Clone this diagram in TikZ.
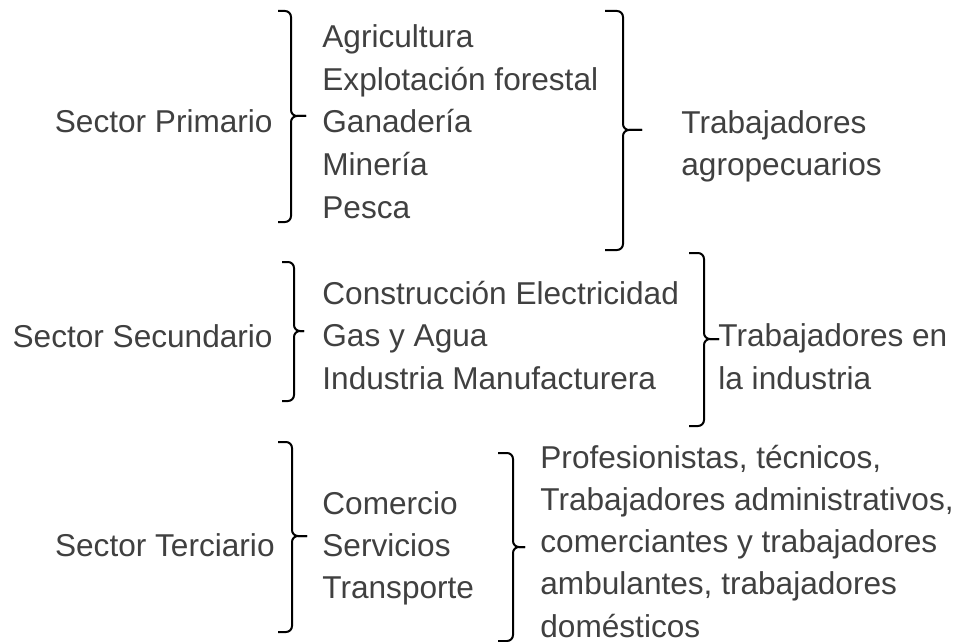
\documentclass[tikz,border=0pt]{standalone}
\usepackage{fontspec}
\setmainfont{Liberation Sans}
\definecolor{textogris}{RGB}{64,64,64}

% llave derecha: x, arriba, medio, abajo, gancho, pico
\newcommand{\llave}[6]{%
    \draw[llave] ({#1-#5},#2) -- (#1,#2) -- (#1,#3) -- ({#1+#6},#3);
    \draw[llave] ({#1-#5},#4) -- (#1,#4) -- (#1,#3) -- ({#1+#6},#3);
}

\begin{document}
\begin{tikzpicture}[x=0.5pt, y=-0.5pt,
        texto/.style={text=textogris, inner sep=0pt, font=\fontsize{15.8}{21.1}\selectfont},
        llave/.style={draw=black, line width=1pt, rounded corners=3pt}]

    \useasboundingbox (0,0) rectangle (969,642);

    % --- sector primario ---
    \node[texto, anchor=base east] (primario) at (273,133) {Sector Primario};
    \foreach \t [count=\i] in {Agricultura, Explotación forestal, Ganadería, Minería, Pesca}
        \node[texto, anchor=base west] (prim\i) at (322,{48+42.5*(\i-1)}) {\t};
    \llave{291}{11}{116}{222}{13}{15}
    \llave{623}{11}{130}{250}{18}{19}
    % (la base de un nodo de varias líneas es la de su última línea)
    \node[texto, anchor=base west, align=left] (agro) at (681,176) {Trabajadores\\agropecuarios};

    % --- sector secundario ---
    \node[texto, anchor=base east] (secundario) at (273,347) {Sector Secundario};
    \foreach \t [count=\i] in {Construcción Electricidad, Gas y Agua, Industria Manufacturera}
        \node[texto, anchor=base west] (sec\i) at (322,{304+42.5*(\i-1)}) {\t};
    \llave{294}{262}{331}{401}{12}{10}
    \llave{704}{253}{339}{426}{15}{15}
    \node[texto, anchor=base west, align=left] (industria) at (718,389) {Trabajadores en\\la industria};

    % --- sector terciario ---
    \node[texto, anchor=base east] (terciario) at (275,556) {Sector Terciario};
    \foreach \t [count=\i] in {Comercio, Servicios, Transporte}
        \node[texto, anchor=base west] (ter\i) at (322,{514+42*(\i-1)}) {\t};
    \llave{292}{442}{536}{632}{14}{15}
    \llave{513}{453}{547}{641}{15}{12}
    \node[texto, anchor=base west, align=left] (oficios) at (540,637)
        {Profesionistas, técnicos,\\Trabajadores administrativos,\\comerciantes y trabajadores\\ambulantes, trabajadores\\domésticos};

\end{tikzpicture}
\end{document}
